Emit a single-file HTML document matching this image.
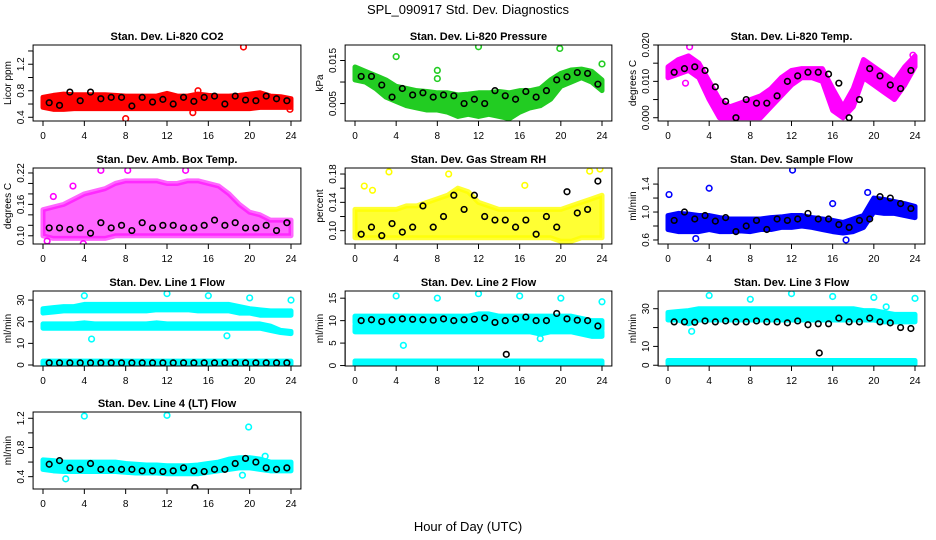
<!DOCTYPE html>
<html><head><meta charset="utf-8"><style>
html,body{margin:0;padding:0;background:#fff;width:936px;height:540px;overflow:hidden}
svg{display:block;font-family:"Liberation Sans",sans-serif}
</style></head><body>
<svg id="c" width="936" height="540" viewBox="0 0 936 540">
<text x="468" y="14" text-anchor="middle" font-size="13">SPL_090917  Std. Dev. Diagnostics</text>
<text x="468" y="531" text-anchor="middle" font-size="13">Hour of Day (UTC)</text>
</svg>
<script>
const hours=[0,1,2,3,4,5,6,7,8,9,10,11,12,13,14,15,16,17,18,19,20,21,22,23,24];
const blackHours=[0.6,1.6,2.6,3.6,4.6,5.6,6.6,7.6,8.6,9.6,10.6,11.6,12.6,13.6,14.6,15.6,16.6,17.6,18.6,19.6,20.6,21.6,22.6,23.6];
const xTicks=[0,4,8,12,16,20,24];

// Panel 1 CO2
const co2Lo=[0.55,0.52,0.52,0.53,0.53,0.53,0.53,0.53,0.53,0.53,0.53,0.53,0.53,0.53,0.53,0.53,0.53,0.53,0.53,0.53,0.53,0.55,0.55,0.55,0.55];
const co2Hi=[0.70,0.73,0.75,0.74,0.74,0.74,0.74,0.73,0.72,0.72,0.72,0.72,0.76,0.72,0.72,0.75,0.73,0.72,0.72,0.73,0.75,0.77,0.72,0.71,0.68];
const co2Black=[0.62,0.58,0.78,0.65,0.78,0.68,0.70,0.70,0.57,0.70,0.63,0.67,0.60,0.70,0.64,0.70,0.72,0.60,0.72,0.66,0.65,0.72,0.68,0.65];
const co2OutX=[19.4,8.0,14.5,15.0,23.9];
const co2OutY=[1.46,0.38,0.47,0.80,0.52];
// Panel 2 Pressure
const presLo=[0.0105,0.0100,0.0085,0.0065,0.0055,0.0045,0.0040,0.0035,0.0035,0.0030,0.0020,0.0025,0.0020,0.0025,0.0020,0.0015,0.0030,0.0040,0.0045,0.0060,0.0090,0.0100,0.0110,0.0100,0.0080];
const presHi=[0.0135,0.0125,0.0115,0.0105,0.0090,0.0085,0.0080,0.0078,0.0075,0.0075,0.0070,0.0072,0.0075,0.0075,0.0078,0.0075,0.0080,0.0080,0.0085,0.0105,0.0120,0.0128,0.0130,0.0125,0.0105];
const presBlack=[0.0113,0.0113,0.0093,0.0065,0.0085,0.0070,0.0075,0.0065,0.0070,0.0068,0.0050,0.0060,0.0050,0.0080,0.0068,0.0060,0.0078,0.0065,0.0080,0.0105,0.0112,0.0122,0.0120,0.0095];
const presOutX=[4,12,19.9,24,8,8];
const presOutY=[0.0159,0.0182,0.0178,0.0142,0.0127,0.0108];
// Panel 3 Li-820 temp
const ltLo=[0.011,0.012,0.013,0.011,0.005,0.000,0.000,0.000,0.000,0.000,0.003,0.006,0.009,0.011,0.011,0.010,0.002,0.000,0.003,0.011,0.009,0.007,0.005,0.009,0.014];
const ltHi=[0.014,0.016,0.017,0.015,0.010,0.005,0.003,0.004,0.005,0.006,0.008,0.011,0.013,0.0135,0.0135,0.0135,0.008,0.003,0.008,0.016,0.014,0.012,0.010,0.014,0.017];
const ltBlack=[0.0125,0.0135,0.0140,0.0130,0.0085,0.0045,0.0000,0.0050,0.0040,0.0040,0.0060,0.0100,0.0115,0.0125,0.0125,0.0120,0.0095,0.0000,0.0050,0.0135,0.0115,0.0090,0.0080,0.0130];
const ltOutX=[2.1,1.7,23.8];
const ltOutY=[0.0195,0.0095,0.0172];
// Panel 4 Amb box temp
const abLo=[0.10,0.095,0.095,0.095,0.095,0.095,0.095,0.10,0.10,0.10,0.10,0.10,0.10,0.10,0.10,0.10,0.10,0.10,0.10,0.10,0.10,0.10,0.10,0.10,0.10];
const abHi=[0.15,0.155,0.16,0.17,0.18,0.185,0.19,0.20,0.205,0.205,0.205,0.205,0.20,0.20,0.205,0.205,0.20,0.195,0.18,0.16,0.145,0.14,0.13,0.13,0.13];
const abBlack=[0.115,0.115,0.112,0.115,0.105,0.125,0.115,0.12,0.11,0.125,0.115,0.12,0.12,0.115,0.115,0.12,0.13,0.12,0.125,0.115,0.115,0.12,0.11,0.125];
const abOutX=[5.6,8.2,13.8,1.0,2.9,0.4,3.9];
const abOutY=[0.225,0.225,0.225,0.175,0.195,0.09,0.085];
// Panel 5 Gas stream RH
const rhLo=[0.09,0.09,0.09,0.09,0.09,0.09,0.09,0.09,0.09,0.09,0.09,0.09,0.09,0.09,0.09,0.09,0.09,0.09,0.09,0.09,0.085,0.085,0.09,0.09,0.09];
const rhHi=[0.13,0.13,0.13,0.13,0.13,0.135,0.135,0.14,0.145,0.15,0.16,0.155,0.14,0.135,0.13,0.13,0.13,0.13,0.13,0.13,0.13,0.135,0.14,0.145,0.15];
const rhBlack=[0.095,0.105,0.093,0.11,0.098,0.105,0.135,0.105,0.12,0.15,0.13,0.15,0.12,0.115,0.115,0.105,0.115,0.095,0.12,0.105,0.155,0.125,0.13,0.17];
const rhOutX=[3.3,9.1,0.9,1.7,22.8,23.8,16.5];
const rhOutY=[0.183,0.180,0.163,0.157,0.184,0.187,0.164];
// Panel 6 Sample flow
const sfLo=[0.75,0.72,0.72,0.72,0.75,0.72,0.72,0.73,0.72,0.75,0.75,0.78,0.78,0.80,0.78,0.75,0.72,0.70,0.72,0.78,1.00,0.98,0.98,0.95,0.92];
const sfHi=[0.95,0.98,0.97,0.95,0.95,0.92,0.90,0.90,0.90,0.90,0.92,0.93,0.95,0.95,0.92,0.90,0.88,0.85,0.90,0.95,1.20,1.18,1.15,1.12,1.08];
const sfBlack=[0.88,1.00,0.90,0.95,0.87,0.92,0.72,0.80,0.88,0.75,0.90,0.88,0.90,0.98,0.90,0.90,0.82,0.78,0.88,0.90,1.22,1.20,1.12,1.05];
const sfOutX=[12.1,4.0,0.1,16.0,17.3,2.7,19.4];
const sfOutY=[1.60,1.34,1.25,1.12,0.60,0.62,1.28];
// Panel 7 Line 1 flow
const l1aLo=[24,24.5,25,25,25,25,25,25,25,25,25,25.5,25.5,25.5,25.5,25,25,25,25,24,24,23,23,23,23];
const l1aHi=[26,26.5,27,27,28,28,28,28,28,28,28,28,28,28,28,28,28,28,28,27,26,25.5,25,25,25];
const l1bLo=[17,17,17,17,17,17,17,17,17,17,17,17,17,17,17,17,17,17,17,17,17,17,16,15,14.5];
const l1bHi=[19,19,19,19,19.5,19,19,19,19,19,19,19.5,19,19,19,19,19,19,19,19,19,19,18,16,15.5];
const l1cLo=[0.3,0.3,0.3,0.3,0.3,0.3,0.3,0.3,0.3,0.3,0.3,0.3,0.3,0.3,0.3,0.3,0.3,0.3,0.3,0.3,0.3,0.3,0.3,0.3,0.3];
const l1cHi=[1.8,1.8,1.8,1.8,1.8,1.8,1.8,1.8,1.8,1.8,1.8,1.8,1.8,1.8,1.8,1.8,1.8,1.8,1.8,1.8,1.8,1.8,1.8,1.8,1.8];
const l1Black=[1,1,1,1,1,1,1,1,1,1,1,1,1,1,1,1,1,1,1,1,1,1,1,1];
const l1OutX=[4,12,16,20,24,4.7,17.8];
const l1OutY=[32,33,32,31,30,12,13.5];
// Panel 8 Line 2 flow
const l2aLo=[9.5,9.5,9.5,9.5,9.5,9.5,9.5,9.5,9.5,9.5,9.5,9.5,9.5,9.5,9.5,9.5,9.5,9.5,9.5,9.5,9.5,9.5,9.0,8.5,8.0];
const l2aHi=[11,11,11,11,11,11,11,11,11,11,11,11,11.5,11.5,11,11,11,11,11,11,11,11,10.5,10,10];
const l2bLo=[7.5,7.5,7.5,7.5,7.5,7.5,7.5,7.5,7.5,7.5,7.5,7.5,7.5,7.5,7.5,7.5,7.5,7.5,7.0,7.5,7.5,7.5,7.0,6.5,6.5];
const l2bHi=[9,9,9,9,9,9,9,9,9,9,9,9,9,9,9,9,9,9,9,9,9,9,8.5,7.5,7.5];
const l2cLo=[0.2,0.2,0.2,0.2,0.2,0.2,0.2,0.2,0.2,0.2,0.2,0.2,0.2,0.2,0.2,0.2,0.2,0.2,0.2,0.2,0.2,0.2,0.2,0.2,0.2];
const l2cHi=[1.0,1.0,1.0,1.0,1.0,1.0,1.0,1.0,1.0,1.0,1.0,1.0,1.0,1.0,1.0,1.0,1.0,1.0,1.0,1.0,1.0,1.0,1.0,1.0,1.0];
const l2Black=[10,10.2,9.8,10.2,10.4,10.3,10.2,10.1,10.4,10.0,10.2,10.3,10.6,9.6,10,10.4,10.8,10,10,11.6,10.4,10.1,10,8.8];
const l2OutX=[4,8,12,16,20,24,4.7,18];
const l2OutY=[15.5,15,16,15.5,15,14.2,4.5,6];
// Panel 9 Line 3 flow
const l3aLo=[24,24,22,24,24,24,24,24,24,24,24,24,24,24,24,24,24,24,24,24,24,23,23,23,23];
const l3aHi=[28,28.5,29,30,30,30,30,30,30,30,30,30,30,30,30,30,30,30,30,29,29,28,27,27,27];
const l3bLo=[0.6,0.6,0.6,0.6,0.6,0.6,0.6,0.6,0.6,0.6,0.6,0.6,0.6,0.6,0.6,0.6,0.6,0.6,0.6,0.6,0.6,0.6,0.6,0.6,0.6];
const l3bHi=[2.5,2.5,2.5,2.5,2.5,2.5,2.5,2.5,2.5,2.5,2.5,2.5,2.5,2.5,2.5,2.5,2.5,2.5,2.5,2.5,2.5,2.5,2.5,2.5,2.5];
const l3Black=[23,23,22.8,23.5,23,23.5,23,23,23.5,23,23,22.5,23.5,21.5,22,22,25,23,23,25,23,22.5,20,19.5];
const l3OutX=[4,8,12,16,20,24,2.3,21.2];
const l3OutY=[37,35,38,36.5,36,35.5,18,31];
// Panel 10 Line 4 flow
const l4Lo=[0.50,0.48,0.47,0.47,0.47,0.47,0.47,0.47,0.46,0.45,0.45,0.45,0.44,0.44,0.44,0.44,0.46,0.48,0.50,0.52,0.52,0.50,0.48,0.48,0.48];
const l4Hi=[0.63,0.62,0.60,0.60,0.60,0.60,0.60,0.60,0.58,0.57,0.56,0.56,0.55,0.55,0.55,0.56,0.58,0.60,0.64,0.66,0.66,0.64,0.60,0.60,0.60];
const l4Black=[0.57,0.62,0.52,0.50,0.58,0.50,0.50,0.50,0.50,0.48,0.48,0.47,0.48,0.52,0.48,0.47,0.50,0.50,0.58,0.65,0.60,0.52,0.50,0.52];
const l4OutX=[4,12,19.9,2.2,19.3,21.5];
const l4OutY=[1.23,1.24,1.08,0.37,0.42,0.68];
const l4BlkOutX=[14.7];
const l4BlkOutY=[0.25];

const NS='http://www.w3.org/2000/svg';
const svg=document.getElementById('c');
function mk(tag,attrs,parent){const e=document.createElementNS(NS,tag);for(const k in attrs)e.setAttribute(k,attrs[k]);(parent||svg).appendChild(e);return e;}

const cols=[[43,291],[355,602],[668,915]];
const rows=[[45,121],[168,244],[291,366],[412,489]];

const panels=[
 {name:'co2',title:'Stan. Dev. Li-820 CO2',ylab:'Licor ppm',r:0,c:0,ylim:[0.344,1.49],ticks:[0.4,0.6,0.8,1.0,1.2,1.4],labels:['0.4','','0.8','','1.2',''],color:'#ff0000',bands:[[co2Lo,co2Hi]],black:co2Black,ox:co2OutX,oy:co2OutY,op:1},
 {name:'pressure',title:'Stan. Dev. Li-820 Pressure',ylab:'kPa',r:0,c:1,ylim:[0.00095,0.0186],ticks:[0.005,0.010,0.015],labels:['0.005','','0.015'],color:'#22cc22',bands:[[presLo,presHi]],black:presBlack,ox:presOutX,oy:presOutY,op:1},
 {name:'li820-temp',title:'Stan. Dev. Li-820 Temp.',ylab:'degrees C',r:0,c:2,ylim:[-0.0009,0.0200],ticks:[0,0.005,0.010,0.015,0.020],labels:['0.000','','0.010','','0.020'],color:'#ff00ff',bands:[[ltLo,ltHi]],black:ltBlack,ox:ltOutX,oy:ltOutY,op:1},
 {name:'amb-box-temp',title:'Stan. Dev. Amb. Box Temp.',ylab:'degrees C',r:1,c:0,ylim:[0.0843,0.2295],ticks:[0.10,0.12,0.14,0.16,0.18,0.20,0.22],labels:['0.10','','','0.16','','','0.22'],color:'#ff00ff',bands:[[abLo,abHi]],black:abBlack,ox:abOutX,oy:abOutY,op:0.6},
 {name:'gas-stream-rh',title:'Stan. Dev. Gas Stream RH',ylab:'percent',r:1,c:1,ylim:[0.0812,0.1885],ticks:[0.10,0.12,0.14,0.16,0.18],labels:['0.10','','0.14','','0.18'],color:'#ffff00',bands:[[rhLo,rhHi]],black:rhBlack,ox:rhOutX,oy:rhOutY,op:0.8},
 {name:'sample-flow',title:'Stan. Dev. Sample Flow',ylab:'ml/min',r:1,c:2,ylim:[0.5425,1.63],ticks:[0.6,0.8,1.0,1.2,1.4],labels:['0.6','','1.0','','1.4'],color:'#0000ff',bands:[[sfLo,sfHi]],black:sfBlack,ox:sfOutX,oy:sfOutY,op:1},
 {name:'line1-flow',title:'Stan. Dev. Line 1 Flow',ylab:'ml/min',r:2,c:0,ylim:[-0.46,34.2],ticks:[0,10,20,30],labels:['0','10','20','30'],color:'#00ffff',bands:[[l1aLo,l1aHi],[l1bLo,l1bHi],[l1cLo,l1cHi]],black:l1Black,ox:l1OutX,oy:l1OutY,op:1},
 {name:'line2-flow',title:'Stan. Dev. Line 2 Flow',ylab:'ml/min',r:2,c:1,ylim:[-0.1,16.6],ticks:[0,5,10,15],labels:['0','5','10','15'],color:'#00ffff',bands:[[l2aLo,l2aHi],[l2bLo,l2bHi],[l2cLo,l2cHi]],black:l2Black,ox:l2OutX,oy:l2OutY,op:1,bx:[14.7],by:[2.5]},
 {name:'line3-flow',title:'Stan. Dev. Line 3 Flow',ylab:'ml/min',r:2,c:2,ylim:[-0.4,39.4],ticks:[0,10,20,30],labels:['0','10','','30'],color:'#00ffff',bands:[[l3aLo,l3aHi],[l3bLo,l3bHi]],black:l3Black,ox:l3OutX,oy:l3OutY,op:1,bx:[14.7],by:[6.5]},
 {name:'line4-flow',title:'Stan. Dev. Line 4 (LT) Flow',ylab:'ml/min',r:3,c:0,ylim:[0.231,1.286],ticks:[0.4,0.6,0.8,1.0,1.2],labels:['0.4','','0.8','','1.2'],color:'#00ffff',bands:[[l4Lo,l4Hi]],black:l4Black,ox:l4OutX,oy:l4OutY,op:1,bx:l4BlkOutX,by:l4BlkOutY}
];

panels.forEach(p=>{
 const [x0,x24]=cols[p.c];const [top,bot]=rows[p.r];
 const pad=(x24-x0)*0.04/24*24/1; const L=x0-(x24-x0)*0.04,R=x24+(x24-x0)*0.04;
 const xs=h=>x0+(x24-x0)*h/24;
 const ys=v=>bot-(v-p.ylim[0])/(p.ylim[1]-p.ylim[0])*(bot-top);
 const g=mk('g',{});
 
 
 const clip=mk('clipPath',{id:'cl-'+p.name},g);
 mk('rect',{x:L,y:top,width:R-L,height:bot-top},clip);
 const data=mk('g',{'clip-path':'url(#cl-'+p.name+')'},g);
 p.bands.forEach((b,bi)=>{
  let pts=[];
  hours.forEach((h,i)=>pts.push(xs(h)+','+ys(b[1][i])));
  for(let i=hours.length-1;i>=0;i--)pts.push(xs(hours[i])+','+ys(b[0][i]));
  const poly=mk('polygon',{points:pts.join(' '),fill:p.color,stroke:p.color,'stroke-width':5,'stroke-linejoin':'round','fill-opacity':p.op,'stroke-opacity':p.op},data);
  
  
 });
 p.ox.forEach((h,i)=>{
  const c=mk('circle',{cx:xs(h),cy:ys(p.oy[i]),r:2.8,fill:'none',stroke:p.color,'stroke-width':1.6},data);
  
  
 });
 p.black.forEach((v,i)=>{
  const c=mk('circle',{cx:xs(blackHours[i]),cy:ys(v),r:2.8,fill:'none',stroke:'#000','stroke-width':1.6},data);
  
  
 });
 if(p.bx)p.bx.forEach((h,i)=>{
  const c=mk('circle',{cx:xs(h),cy:ys(p.by[i]),r:2.8,fill:'none',stroke:'#000','stroke-width':1.6},data);
  
  
 });
 const box=mk('rect',{x:L,y:top,width:R-L,height:bot-top,fill:'none',stroke:'#000','stroke-width':1},g);
 
 
 const t=mk('text',{x:(L+R)/2,y:top-5,'text-anchor':'middle','font-size':11,'font-weight':'bold'},g);
 t.textContent=p.title;
 
 
 xTicks.forEach(h=>{
  mk('line',{x1:xs(h),x2:xs(h),y1:bot,y2:bot+5,stroke:'#000'},g);
  const tl=mk('text',{x:xs(h),y:bot+18,'text-anchor':'middle','font-size':10},g);
  tl.textContent=h;
  
  
 });
 mk('line',{x1:xs(0),x2:xs(24),y1:bot,y2:bot,stroke:'#000'},g);
 p.ticks.forEach((v,i)=>{
  const y=ys(v);
  mk('line',{x1:L,x2:L-5,y1:y,y2:y,stroke:'#000'},g);
  if(p.labels[i]){
   const tl=mk('text',{x:0,y:0,'text-anchor':'middle','font-size':10,transform:'translate('+(L-9)+','+y+') rotate(-90)'},g);
   tl.textContent=p.labels[i];
   
   
  }
 });
 mk('line',{x1:L,x2:L,y1:ys(p.ticks[0]),y2:ys(p.ticks[p.ticks.length-1]),stroke:'#000'},g);
 const yl=mk('text',{x:0,y:0,'text-anchor':'middle','font-size':10,transform:'translate('+(L-22)+','+((top+bot)/2)+') rotate(-90)'},g);
 yl.textContent=p.ylab;
 
 
});
</script>
</body></html>
